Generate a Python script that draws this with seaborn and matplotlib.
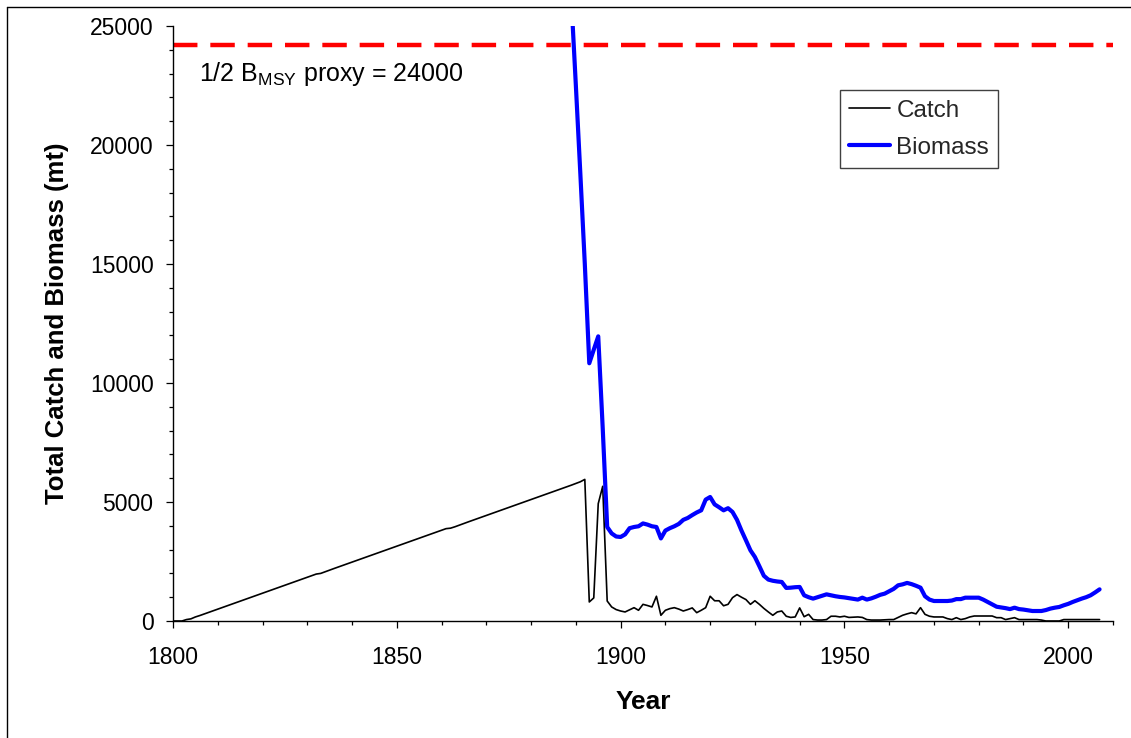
import numpy as np
import pandas as pd
import matplotlib
matplotlib.use("Agg")
import matplotlib.pyplot as plt
from matplotlib.lines import Line2D
from matplotlib.ticker import MultipleLocator
import seaborn as sns

# ---------------- data ----------------
catch_years = list(range(1800, 2008))
catch = [
    0, 0, 0, 60, 90, 170, 230, 297, 364, 431,            # 1800s
    498, 565, 632, 699, 766, 833, 900, 967, 1034, 1101,  # 1810s
    1168, 1235, 1302, 1369, 1436, 1503, 1570, 1637, 1704, 1771,
    1838, 1905, 1972, 2000, 2070, 2140, 2207, 2274, 2341, 2408,
    2475, 2542, 2609, 2676, 2743, 2810, 2877, 2944, 3011, 3078,
    3145, 3212, 3279, 3346, 3413, 3480, 3547, 3614, 3681, 3748,
    3815, 3880, 3900, 3960, 4030, 4100, 4167, 4234, 4301, 4368,
    4435, 4502, 4569, 4636, 4703, 4770, 4837, 4904, 4971, 5038,
    5105, 5172, 5239, 5306, 5373, 5440, 5507, 5574, 5641, 5708,
    5780, 5850, 5950, 800, 970, 4930, 5660, 840, 590, 480,   # 1890s
    420, 380, 470, 560, 450, 700, 650, 590, 1040, 240,       # 1900s
    450, 520, 560, 500, 420, 480, 550, 350, 450, 560,
    1040, 850, 850, 640, 700, 980, 1110, 1000, 900, 700,
    850, 700, 530, 380, 240, 380, 420, 200, 150, 170,
    550, 180, 280, 60, 40, 40, 60, 200, 200, 170,
    200, 150, 160, 170, 150, 60, 40, 40, 40, 50,
    60, 60, 150, 240, 300, 350, 300, 560, 280, 200,
    170, 170, 170, 100, 60, 140, 60, 100, 170, 210,
    210, 210, 210, 210, 140, 140, 60, 100, 140, 60,
    60, 60, 60, 60, 40, 0, 0, 0, 0, 60,
    60, 60, 60, 60, 60, 60, 60, 60,
]

biomass_years = list(range(1889, 2008))
biomass = [
    26100, 22500, 18800, 15000, 10830, 11400, 11960, 8100, 3950, 3680, 3550,  # 1889-1899
    3530, 3640, 3900, 3950, 3980, 4100, 4050, 3980, 3950, 3470,
    3800, 3900, 3980, 4080, 4250, 4330, 4450, 4560, 4650, 5100,
    5210, 4900, 4780, 4650, 4740, 4580, 4250, 3800, 3390, 2970,
    2690, 2300, 1900, 1740, 1690, 1660, 1640, 1390, 1400, 1420,
    1430, 1080, 1000, 940, 1000, 1060, 1120, 1080, 1040, 1010,
    990, 960, 930, 900, 980, 900, 950, 1020, 1100, 1150,
    1250, 1350, 1500, 1540, 1600, 1550, 1480, 1400, 1040, 900,
    840, 840, 840, 840, 860, 920, 920, 980, 980, 980,
    980, 900, 800, 700, 600, 570, 540, 500, 560, 500,
    480, 450, 420, 420, 420, 460, 520, 560, 590, 660,
    720, 800, 870, 940, 1000, 1080, 1200, 1330,
]

ref_level = 24200
ref_label = r"1/2 B$_{\mathregular{MSY}}$ proxy = 24000"
x_ticks = [1800, 1850, 1900, 1950, 2000]
y_ticks = [0, 5000, 10000, 15000, 20000, 25000]

catch_df = pd.DataFrame({"Year": catch_years, "Value": catch})
bio_df = pd.DataFrame({"Year": biomass_years, "Value": biomass})

# ---------------- style ----------------
sns.set_theme(style="white")
plt.rcParams["font.family"] = ["Liberation Sans", "DejaVu Sans"]
plt.rcParams["mathtext.default"] = "regular"

fig = plt.figure(figsize=(11.31, 7.38), dpi=100)
ax = fig.add_axes([173 / 1131, 1 - 621 / 738, 940 / 1131, 595 / 738])

ax.axhline(ref_level, color="#FF0000", lw=3.2, dashes=(5.5, 2.9), zorder=1)
sns.lineplot(data=catch_df, x="Year", y="Value", ax=ax, color="black",
             linewidth=1.2, zorder=2)
sns.lineplot(data=bio_df, x="Year", y="Value", ax=ax, color="#0000FF",
             linewidth=3.0, zorder=3)

ax.set_xlim(1800, 2010)
ax.set_ylim(0, 25000)
ax.set_xticks(x_ticks)
ax.set_yticks(y_ticks)
ax.xaxis.set_minor_locator(MultipleLocator(10))
ax.yaxis.set_minor_locator(MultipleLocator(1000))

for s in ["top", "right"]:
    ax.spines[s].set_visible(False)
for s in ["left", "bottom"]:
    ax.spines[s].set_color("black")
    ax.spines[s].set_linewidth(1.0)

ax.tick_params(axis="both", which="major", direction="out", length=5,
               width=0.9, color="black", labelsize=16.5, labelcolor="black")
ax.tick_params(axis="both", which="minor", direction="out", length=3.2,
               width=0.9, color="black")
ax.tick_params(axis="y", which="major", pad=9)
ax.tick_params(axis="x", which="major", pad=13)
ax.tick_params(axis="both", which="both", bottom=True, left=True)

ax.set_xlabel("Year", fontsize=19, fontweight="bold", color="black")
ax.set_ylabel("Total Catch and Biomass (mt)", fontsize=18.5, fontweight="bold",
              color="black")
ax.xaxis.set_label_coords(0.5, -0.116)
ax.yaxis.set_label_coords(-0.111, 0.5)

ax.text(1805.8, 23000, ref_label, fontsize=18, color="black",
        ha="left", va="center")

handles = [Line2D([], [], color="black", lw=1.2),
           Line2D([], [], color="#0000FF", lw=3.0)]
leg = ax.legend(handles, ["Catch", "Biomass"], loc="upper left",
                bbox_to_anchor=(0.7096, 0.892), fontsize=17.5, frameon=True,
                fancybox=False, shadow=False, framealpha=1,
                handlelength=1.69, handletextpad=0.25, labelspacing=0.62,
                borderpad=0.38, borderaxespad=0)
leg.get_frame().set_edgecolor("#404040")
leg.get_frame().set_linewidth(1.0)

# outer chart border (partly cropped in the reference)
fig.add_artist(Line2D([7 / 1131, 7 / 1131], [0, 1 - 7 / 738], color="black",
                      lw=1.0, transform=fig.transFigure))
fig.add_artist(Line2D([7 / 1131, 1], [1 - 7 / 738, 1 - 7 / 738], color="black",
                      lw=1.0, transform=fig.transFigure))

fig.savefig("out.png", dpi=100)
